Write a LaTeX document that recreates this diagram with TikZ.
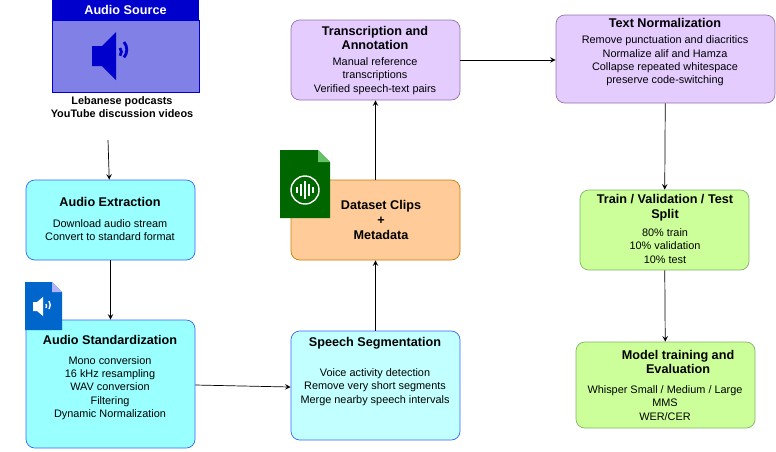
\documentclass[tikz,border=0pt]{standalone}
\usepackage{fontspec}
\setmainfont{Liberation Sans}
\usetikzlibrary{calc}
\definecolor{cyanfill}{HTML}{99FFFF}
\definecolor{cyanedge}{HTML}{3366FF}
\definecolor{orangefill}{HTML}{FFCC99}
\definecolor{orangeedge}{HTML}{CC7A00}
\definecolor{lavfill}{HTML}{E5CCFF}
\definecolor{lavedge}{HTML}{9673A6}
\definecolor{greenfill}{HTML}{CCFF99}
\definecolor{greenedge}{HTML}{82B366}
\tikzset{
  stage/.style={draw,rounded corners=5pt,align=center,inner sep=0pt},
  body/.style={align=center,font=\fontsize{6.2}{7.6}\selectfont},
  ttl/.style={font=\fontsize{7.2}{8.4}\selectfont\bfseries},
  flow/.style={-stealth,thin}
}
\newcommand{\stagebox}[6]{% name, x1,y1,x2,y2, style
  \node[stage,#6,minimum width={(#4-#2)*0.02cm},minimum height={(#5-#3)*0.02cm}]
    (#1) at ({(#2+#4)/2},{(#3+#5)/2}) {};}
\begin{document}
\begin{tikzpicture}[x=0.02cm,y=-0.02cm]
  \useasboundingbox (0,0) rectangle (776,451);
  % audio source
  \fill[blue!80!black] (52,0) rectangle (199,20);
  \draw[blue!80!black,fill={rgb,255:red,128;green,128;blue,230}] (52,20) rectangle (199,92);
  \node[white,ttl] (srctitle) at (125.5,10) {Audio Source};
  \fill[blue!80!black] (92,46) -- (102,46) -- (116,32) -- (116,80) -- (102,66) -- (92,66) -- cycle;
  \draw[blue!80!black,line width=1.6pt] (120,48) arc (-40:40:6) (124,42) arc (-40:40:12);
  \node[body,font=\fontsize{6.2}{7.6}\selectfont\bfseries] (srctext) at (122,107)
    {Lebanese podcasts\\YouTube discussion videos};
  % stages
  \stagebox{extr}{26}{180}{195}{260}{fill=cyanfill,draw=cyanedge}
  \stagebox{stand}{26}{320}{195}{448}{fill=cyanfill,draw=cyanedge}
  \stagebox{segm}{291}{331}{460}{440}{fill=cyanfill!60,draw=cyanedge}
  \stagebox{clips}{291}{180}{460}{260}{fill=orangefill,draw=orangeedge}
  \stagebox{trans}{291}{20}{460}{100}{fill=lavfill,draw=lavedge}
  \stagebox{norm}{556}{15}{775}{103}{fill=lavfill,draw=lavedge}
  \stagebox{split}{580}{190}{749}{270}{fill=greenfill,draw=greenedge}
  \stagebox{model}{576}{342}{755}{428}{fill=greenfill,draw=greenedge}
  % texts
  \node[ttl] (extrT) at (110,202) {Audio Extraction};
  \node[body] (extrB) at (110,230) {Download audio stream\\Convert to standard format};
  \node[ttl] (standT) at (110,340) {Audio Standardization};
  \node[body] (standB) at (110,388) {Mono conversion\\16 kHz resampling\\WAV conversion\\Filtering\\Dynamic Normalization};
  \node[ttl] (segmT) at (375,343) {Speech Segmentation};
  \node[body] (segmB) at (375,387) {Voice activity detection\\Remove very short segments\\Merge nearby speech intervals};
  \node[ttl,align=center] (clipsT) at (381,220) {Dataset Clips\\+\\Metadata};
  \node[ttl,align=center] (transT) at (375,38) {Transcription and\\Annotation};
  \node[body] (transB) at (375,76) {Manual reference\\transcriptions\\Verified speech-text pairs};
  \node[ttl] (normT) at (665,23) {Text Normalization};
  \node[body] (normB) at (665,61) {Remove punctuation and diacritics\\Normalize alif and Hamza\\Collapse repeated whitespace\\preserve code-switching};
  \node[ttl,align=center] (splitT) at (665,208) {Train / Validation / Test\\Split};
  \node[body] (splitB) at (665,246) {80\% train\\10\% validation\\10\% test};
  \node[ttl,align=center] (modelT) at (678,362) {Model training and\\Evaluation};
  \node[body] (modelB) at (665,403) {Whisper Small / Medium / Large\\MMS\\WER/CER};
  % icons
  \fill[green!40!black] (280,150) -- (318,150) -- (330,162) -- (330,218) -- (280,218) -- cycle;
  \fill[green!60!black!60] (318,150) -- (330,162) -- (318,162) -- cycle;
  \draw[white,thick] (305,190) circle (14);
  \foreach \dx/\h in {-8/3,-4/6,0/9,4/6,8/3} \draw[white,thick] (305+\dx,190-\h) -- (305+\dx,190+\h);
  \fill[blue!50!cyan!80!black] (25,282) -- (52,282) -- (62,292) -- (62,330) -- (25,330) -- cycle;
  \fill[white!70!blue] (52,282) -- (62,292) -- (52,292) -- cycle;
  \fill[white] (33,302) -- (37,302) -- (43,297) -- (43,316) -- (37,311) -- (33,311) -- cycle;
  \draw[white,thick] (46,304) arc (-30:30:4) (49,301) arc (-35:35:7);
  % connectors
  \draw[flow] (108,140) -- (extr);
  \draw[flow] (extr) -- (stand);
  \draw[flow] (stand.east |- 0,385) -- (segm.west |- 0,387);
  \draw[flow] (segm) -- (clips);
  \draw[flow] (clips) -- (trans);
  \draw[flow] (460,60) -- (norm.west |- 0,60);
  \draw[flow] (norm) -- (split);
  \draw[flow] (split) -- (model);
\end{tikzpicture}
\end{document}
